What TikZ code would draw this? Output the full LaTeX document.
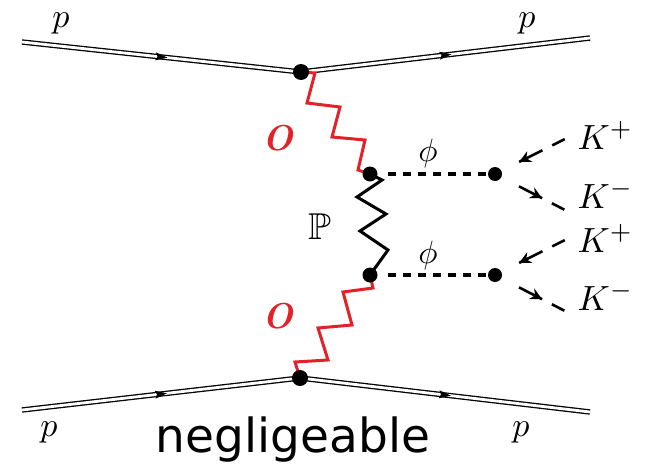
\documentclass[tikz,border=0pt]{standalone}
\usepackage{amssymb}
\usepackage{fontspec}
\newfontfamily\negfont{DejaVu Sans}
\usetikzlibrary{decorations.markings,arrows.meta}
\definecolor{oddred}{RGB}{228,32,40}
\begin{document}
\begin{tikzpicture}[x=1pt,y=-1pt,
  proton/.style={double, line width=1.3pt, double distance=2.8pt},
  pmark/.style={decoration={markings, mark=at position 0.5 with {\fill (6pt,0) -- (-6pt,4pt) -- (-4pt,0) -- (-6pt,-4pt) -- cycle;}}, decorate},
  odd/.style={oddred, line width=3pt, line join=miter},
  pom/.style={black, line width=3pt, line join=miter},
  phidash/.style={line width=3.8pt, dash pattern=on 8.3pt off 6.7pt, shorten <=18pt, shorten >=8pt},
  kdash/.style={line width=2.6pt, dash pattern=on 26pt off 11pt on 14pt off 27pt, dash phase=51pt},
  kin/.style={decoration={markings, mark=at position 27pt with {\fill (0,0) -- (12pt,6pt) -- (8pt,0) -- (12pt,-6pt) -- cycle;}}, postaction=decorate},
  kout/.style={decoration={markings, mark=at position 53pt with {\fill (0,0) -- (-12pt,6pt) -- (-8pt,0) -- (-12pt,-6pt) -- cycle;}}, postaction=decorate},
  dot/.style={circle, fill=black, inner sep=0pt, minimum size=#1},
  mlab/.style={inner sep=0pt, scale=3.4},
  klab/.style={inner sep=0pt, anchor=base west, scale=3.5},
  olab/.style={inner sep=0pt, text=oddred, scale=3.6, font=\bfseries\itshape}
]
\useasboundingbox (0,0) rectangle (645,466);
% vertices
\coordinate (vt) at (301,72);
\coordinate (vb) at (300,378);
\coordinate (vu) at (370,174);
\coordinate (vl) at (370,275);
\coordinate (wu) at (495,174);
\coordinate (wl) at (495,275);
% free ends
\coordinate (a1) at (22,42);
\coordinate (a2) at (590,38);
\coordinate (b1) at (22,410);
\coordinate (b2) at (590,412);
\coordinate (ku1) at (565,139);
\coordinate (ku2) at (565,210);
\coordinate (kl1) at (565,240);
\coordinate (kl2) at (565,311);
% proton lines
\draw[proton] (a1) -- (vt) -- (a2);
\draw[proton] (b1) -- (vb) -- (b2);
\path[pmark] (a1) -- (vt);
\path[pmark] (vt) -- (a2);
\path[pmark] (b1) -- (vb);
\path[pmark] (vb) -- (b2);
% odderon lines
\draw[odd] (vt) -- ++(14,1) -- ++(-8,30) -- ++(33,4) -- ++(-8,30) -- ++(33,3) -- ++(-7,30) -- (vu);
\draw[odd] (vl) -- ++(3,13) -- ++(-30,4) -- ++(9,33) -- ++(-34,3) -- ++(10,32) -- ++(-33,2) -- (vb);
% pomeron
\draw[pom] (vu) -- (382,180) -- (357,197) -- (386,214) -- (360,231) -- (388,250) -- (vl);
% phi lines
\draw[phidash] (vu) -- (wu);
\draw[phidash] (vl) -- (wl);
% kaon lines
\draw[kdash, kin] (wu) -- (ku1);
\draw[kdash, kout] (wu) -- (ku2);
\draw[kdash, kin] (wl) -- (kl1);
\draw[kdash, kout] (wl) -- (kl2);
% dots
\node[dot=16pt] (dvt) at (vt) {};
\node[dot=16pt] (dvb) at (vb) {};
\node[dot=15pt] (dvu) at (vu) {};
\node[dot=15pt] (dvl) at (vl) {};
\node[dot=14pt] (dwu) at (wu) {};
\node[dot=14pt] (dwl) at (wl) {};
% labels
\node[mlab] (p1) at (61,23) {$p$};
\node[mlab] (p2) at (527,23) {$p$};
\node[mlab] (p3) at (49,432) {$p$};
\node[mlab] (p4) at (521,432) {$p$};
\node[olab] (o1) at (278,138) {O};
\node[olab] (o2) at (278,316) {O};
\node[mlab, scale=1.1] (pp) at (320,227) {$\mathbb{P}$};
\node[mlab, scale=0.95] (f1) at (428,153) {$\phi$};
\node[mlab, scale=0.95] (f2) at (428,255) {$\phi$};
\node[klab] (k1) at (577,149) {$K^{+}$};
\node[klab] (k2) at (577,208) {$K^{-}$};
\node[klab] (k3) at (577,252) {$K^{+}$};
\node[klab] (k4) at (577,310) {$K^{-}$};
\node[inner sep=0pt, font=\negfont\fontsize{47}{56}\selectfont] (neg) at (293,440) {negligeable};
\end{tikzpicture}
\end{document}
